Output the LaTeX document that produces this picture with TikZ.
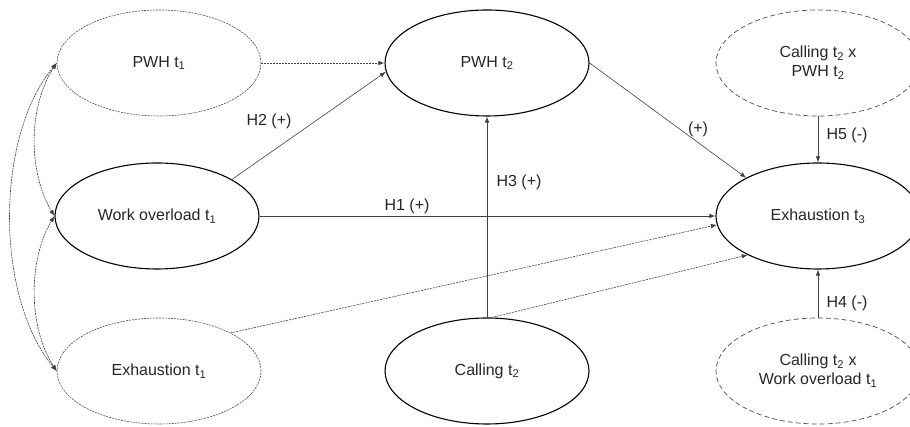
\documentclass[tikz,border=0pt]{standalone}
\usepackage{fontspec}
\setmainfont{Liberation Sans}
\usetikzlibrary{shapes.geometric,arrows.meta}
\begin{document}
\begin{tikzpicture}[x=1pt,y=1pt,
  lat/.style={ellipse,minimum width=204pt,minimum height=106pt,inner sep=0pt,
    font=\fontsize{16}{19}\selectfont,align=center,text=black!85},
  solidlat/.style={lat,draw=black,line width=1.1pt},
  dotlat/.style={lat,draw=black!70,line width=0.6pt,dash pattern=on 2pt off 1pt},
  dashlat/.style={lat,draw=black!70,line width=0.7pt,dash pattern=on 5pt off 3pt},
  path/.style={draw=black!75,line width=0.6pt,-{Latex[length=6pt,width=4.5pt]}},
  dpath/.style={path,dash pattern=on 2pt off 1pt},
  cov/.style={draw=black!75,line width=0.6pt,dash pattern=on 2pt off 0.8pt,
    {Latex[length=6pt,width=4.5pt]}-{Latex[length=6pt,width=4.5pt]}},
  lab/.style={font=\fontsize{16}{19}\selectfont,text=black!85,inner sep=0pt}]
\useasboundingbox (0,0) rectangle (910,427);
\node[dotlat] (pwh1) at (159,364) {PWH t\textsubscript{1}};
\node[solidlat] (wo1) at (157,211) {Work overload t\textsubscript{1}};
\node[dotlat] (ex1) at (159,56) {Exhaustion t\textsubscript{1}};
\node[solidlat] (pwh2) at (487,364) {PWH t\textsubscript{2}};
\node[solidlat] (call) at (487,56) {Calling t\textsubscript{2}};
\node[solidlat] (ex3) at (818,211) {Exhaustion t\textsubscript{3}};
\node[dashlat] (int1) at (818,364) {Calling t\textsubscript{2} x\\PWH t\textsubscript{2}};
\node[dashlat] (int2) at (818,56) {Calling t\textsubscript{2} x\\Work overload t\textsubscript{1}};
% paths
\draw[dpath] (pwh1.east) -- (pwh2.west);
\draw[path] (wo1.26) -- (pwh2.185);
\draw[path] (wo1.east) -- (ex3.west);
\draw[path] (pwh2.east) -- (ex3.152);
\draw[path] (call.north) -- (pwh2.south);
\draw[dpath] (ex1.28) -- (ex3.185);
\draw[dpath] (call.85) -- (ex3.209);
\draw[path] (int1.south) -- (ex3.north);
\draw[path] (int2.north) -- (ex3.south);
% covariances
\draw[cov] (pwh1.west) .. controls (-5,290) and (-5,130) .. (ex1.west);
\draw[cov] (pwh1.west) .. controls (28,320) and (28,255) .. (wo1.west);
\draw[cov] (wo1.west) .. controls (28,167) and (28,100) .. (ex1.west);
% labels
\node[lab] (h2) at (269,306) {H2 (+)};
\node[lab] (h1) at (407,221) {H1 (+)};
\node[lab] (h3) at (519,245) {H3 (+)};
\node[lab] (pl) at (698,298) {(+)};
\node[lab] (h5) at (847,292) {H5 (-)};
\node[lab] (h4) at (847,124) {H4 (-)};
\end{tikzpicture}
\end{document}
